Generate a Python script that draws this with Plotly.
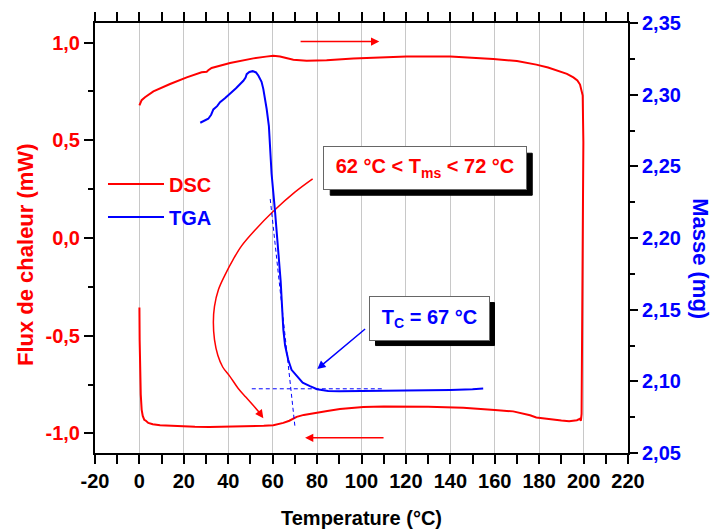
import plotly.graph_objects as go

# ---------------- data ----------------
# DSC loop (heat flow, mW) : heating branch (top), then cooling branch (bottom)
dsc_x = [0, 1, 2.5, 6.3, 13.8, 21.3, 28, 30.3, 31.0, 32.5, 40.8, 51.3, 57, 60.3, 63.3, 66, 69.3,
         75.3, 84.3, 96.3, 120.3, 140, 159.3, 170, 178.7, 184, 189, 192.5, 195.4, 197.2, 198.4,
         199.2, 199.6, 199.9, 199.6, 199.3, 199.1, 198.8, 198.3, 197, 193.5, 190, 185, 178.7,
         175.9, 168.3, 160, 145.8, 130, 120.3, 110, 100.8, 90.3, 84.6, 78.3, 74, 70.8, 67.5,
         64.8, 62, 60.3, 56, 50, 40.8, 31.5, 25, 18.3, 12, 9.3, 6, 4, 2.9, 2.2, 1.5, 1.0,
         0.6, 0.3, 0.1, 0]
dsc_y = [0.679, 0.705, 0.72, 0.75, 0.788, 0.822, 0.848, 0.851, 0.858, 0.87, 0.895, 0.919, 0.928,
         0.932, 0.929, 0.92, 0.912, 0.907, 0.91, 0.919, 0.929, 0.928, 0.916, 0.905, 0.887, 0.872,
         0.855, 0.84, 0.822, 0.806, 0.785, 0.75, 0.729, 0.49, -0.3, -0.861, -0.90, -0.935,
         -0.925, -0.932, -0.938, -0.934, -0.928, -0.918, -0.907, -0.887, -0.88, -0.869, -0.863,
         -0.861, -0.862, -0.865, -0.875, -0.885, -0.895, -0.905, -0.915, -0.935, -0.946, -0.955,
         -0.958, -0.961, -0.963, -0.964, -0.967, -0.966, -0.963, -0.961, -0.958, -0.953, -0.946,
         -0.935, -0.93, -0.91, -0.878, -0.80, -0.695, -0.52, -0.355]

# TGA (mass, mg)
tga_x = [27.4, 29, 31, 32.3, 33.3, 35, 36.3, 38.5, 40.8, 43.5, 46.8, 47.8, 48.3, 49.5, 51, 52.5,
         53.6, 55, 55.8, 56.6, 57.3, 58.3, 58.8, 59.5, 61.05, 62.0, 63.0, 63.6, 64.2, 64.8, 65.6,
         67.0, 68.5, 70.8, 73.5, 76.8, 80, 85, 90, 100, 110, 120, 130, 140, 150, 154.8]
tga_y = [2.2804, 2.2815, 2.2832, 2.286, 2.2897, 2.292, 2.2947, 2.2975, 2.3005, 2.3045, 2.3097,
         2.312, 2.3143, 2.3158, 2.3164, 2.3155, 2.3132, 2.309, 2.3039, 2.297, 2.290, 2.278, 2.267,
         2.245, 2.2187, 2.20, 2.184, 2.170, 2.153, 2.136, 2.125, 2.115, 2.108, 2.1035, 2.099,
         2.0966, 2.0945, 2.0932, 2.093, 2.0932, 2.0933, 2.0935, 2.0937, 2.094, 2.0945, 2.095]

# construction lines for the onset temperature (mass axis)
tangent_x = [58.9, 70.06]
tangent_y = [2.2272, 2.068]
baseline_x = [50.6, 110]
baseline_y = [2.0948, 2.0948]

# curved pointer (heat-flow axis)
arc_x = [78.0, 70, 60.3, 52, 46, 42.3, 38.5, 35.6, 33.8, 33.3, 33.8, 35.3, 37.5, 40.8, 44.5,
         48.0, 51.5, 54.0]
arc_y = [0.303, 0.235, 0.137, 0.04, -0.04, -0.108, -0.19, -0.264, -0.35, -0.43, -0.52, -0.60,
         -0.66, -0.709, -0.77, -0.815, -0.86, -0.893]

x_ticks = [-20, 0, 20, 40, 60, 80, 100, 120, 140, 160, 180, 200, 220]
x_ticktext = ["-20", "0", "20", "40", "60", "80", "100", "120", "140", "160", "180", "200", "220"]
y_ticks = [-1.0, -0.5, 0.0, 0.5, 1.0]
y_ticktext = ["-1,0", "-0,5", "0,0", "0,5", "1,0"]
y2_ticks = [2.05, 2.10, 2.15, 2.20, 2.25, 2.30, 2.35]
y2_ticktext = ["2,05", "2,10", "2,15", "2,20", "2,25", "2,30", "2,35"]

RED = "#ff0000"
BLUE = "#0000ff"
FONT = "Liberation Sans, Arial, sans-serif"

fig = go.Figure()
fig.add_trace(go.Scatter(x=dsc_x, y=dsc_y, mode="lines", line=dict(color=RED, width=2),
                         name="<span style='color:#ff0000'>DSC</span>", legendgroup="a"))
fig.add_trace(go.Scatter(x=tga_x, y=tga_y, yaxis="y2", mode="lines", line=dict(color=BLUE, width=2),
                         name="<span style='color:#0000ff'>TGA</span>", legendgroup="b"))
fig.add_trace(go.Scatter(x=tangent_x, y=tangent_y, yaxis="y2", mode="lines",
                         line=dict(color=BLUE, width=1, dash="4px,3px"), showlegend=False))
fig.add_trace(go.Scatter(x=baseline_x, y=baseline_y, yaxis="y2", mode="lines",
                         line=dict(color=BLUE, width=1, dash="4px,3px"), showlegend=False))
fig.add_trace(go.Scatter(x=arc_x, y=arc_y, mode="lines",
                         line=dict(color=RED, width=1.5, shape="spline"), showlegend=False))

axis_common = dict(showline=True, linewidth=2, linecolor="black", ticks="outside",
                   tickwidth=2, tickcolor="black", zeroline=False)

fig.update_layout(
    width=714, height=531, autosize=False,
    margin=dict(l=95, r=86, t=20, b=78),
    paper_bgcolor="white", plot_bgcolor="white",
    font=dict(family=FONT, size=20, weight="bold"),
    xaxis=dict(range=[-20, 220], tickmode="array", tickvals=x_ticks, ticktext=x_ticktext,
               ticklen=9, mirror="allticks", showgrid=True, gridcolor="#c8c8c8", gridwidth=1,
               tickfont=dict(size=20, color="black", weight="bold"),
               minor=dict(tickmode="linear", tick0=-20, dtick=10, ticks="outside", ticklen=5,
                          tickwidth=2, tickcolor="black", showgrid=False),
               **axis_common),
    yaxis=dict(range=[-1.1, 1.1], tickmode="array", tickvals=y_ticks, ticktext=y_ticktext,
               ticklen=9, showgrid=False,
               tickfont=dict(size=20, color=RED, weight="bold"),
               minor=dict(tickmode="linear", tick0=0, dtick=0.25, ticks="outside", ticklen=5,
                          tickwidth=2, tickcolor="black", showgrid=False),
               **axis_common),
    yaxis2=dict(range=[2.05, 2.35], overlaying="y", side="right", tickmode="array",
                tickvals=y2_ticks, ticktext=y2_ticktext, ticklen=8, showgrid=False,
                tickfont=dict(size=20, color=BLUE, weight="bold"),
                minor=dict(tickmode="linear", tick0=2.05, dtick=0.025, ticks="outside", ticklen=5,
                           tickwidth=2, tickcolor="black", showgrid=False),
                **axis_common),
    showlegend=True,
    legend=dict(x=0.015, y=0.671, xanchor="left", yanchor="top", bgcolor="rgba(0,0,0,0)",
                font=dict(size=20, weight="bold", family=FONT), itemwidth=56,
                traceorder="grouped", tracegroupgap=4),
)

ann = []
shapes = []
# axis titles
ann.append(dict(text="Temperature (°C)", xref="paper", yref="paper", x=0.5, y=-0.151,
                showarrow=False, xanchor="center", yanchor="middle",
                font=dict(size=20, color="black", weight="bold")))
ann.append(dict(text="Flux de chaleur (mW)", xref="paper", yref="paper", x=-0.129, y=0.461,
                textangle=-90, showarrow=False, xanchor="center", yanchor="middle",
                font=dict(size=22, color=RED, weight="bold")))
ann.append(dict(text="Masse (mg)", xref="paper", yref="paper", x=1.136, y=0.452,
                textangle=90, showarrow=False, xanchor="center", yanchor="middle",
                font=dict(size=22, color=BLUE, weight="bold")))

# boxed labels with drop shadows
def boxed(text, x, y, yref, color, w, h):
    W = w + 12
    H = h + 12
    shapes.append(dict(type="rect", xref="x", yref=yref, xsizemode="pixel", ysizemode="pixel",
                       xanchor=x, yanchor=y, x0=-W / 2 + 6, x1=W / 2 + 6,
                       y0=-H / 2 - 6, y1=H / 2 - 6, fillcolor="black",
                       line=dict(color="black", width=1), layer="above"))
    ann.append(dict(text=text, x=x, y=y, xref="x", yref=yref, showarrow=False,
                    width=w, height=h, borderpad=6, borderwidth=1,
                    bgcolor="white", bordercolor="#666666",
                    font=dict(size=20, color=color, weight="bold")))

boxed("62 °C &lt; T<sub>ms</sub> &lt; 72 °C", 128.7, 0.357, "y", RED, 190, 30)
boxed("T<sub>C</sub> = 67 °C", 130.4, -0.4096, "y", BLUE, 107, 31)

# arrows
def arrow(x0, y0, x1, y1, yref, color, width=1.5):
    ann.append(dict(x=x1, y=y1, ax=x0, ay=y0, xref="x", yref=yref, axref="x", ayref=yref,
                    text="", showarrow=True, arrowhead=2, arrowsize=1.1, arrowwidth=width,
                    arrowcolor=color, standoff=0, startstandoff=0))

arrow(71.9, 1.005, 108, 1.005, "y", RED)
arrow(110.6, -1.022, 74.6, -1.022, "y", RED)
arrow(102.3, 2.1374, 80.1, 2.1086, "y2", BLUE)
arrow(53.6, -0.887, 55.8, -0.922, "y", RED)

fig.update_layout(annotations=ann, shapes=shapes)
fig.write_html("out.html")
